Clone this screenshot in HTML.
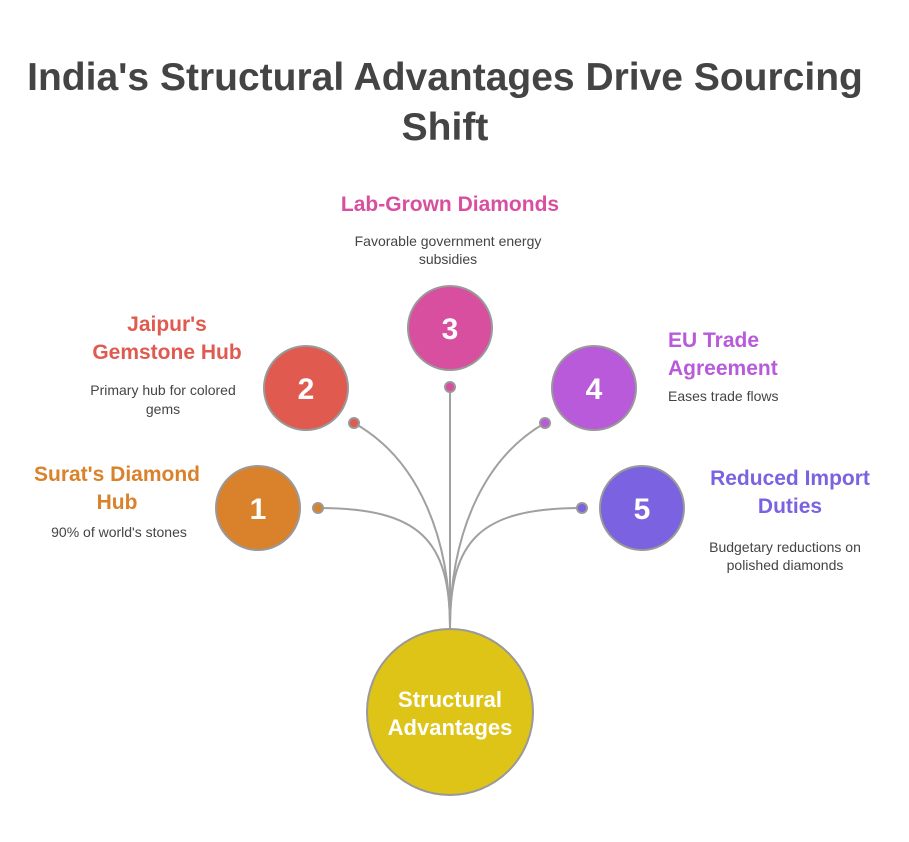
<!DOCTYPE html>
<html><head><meta charset="utf-8"><style>
html,body{margin:0;padding:0;background:#fff;}
svg{display:block;}
text{font-family:"Liberation Sans",sans-serif;}
</style></head><body>
<svg width="909" height="842" viewBox="0 0 909 842" xmlns="http://www.w3.org/2000/svg">
<rect width="909" height="842" fill="#fff"/>
<g font-weight="bold" font-size="39" fill="#444" text-anchor="middle">
<text x="445" y="90">India's Structural Advantages Drive Sourcing</text>
<text x="445" y="140">Shift</text>
</g>
<g fill="none" stroke="#a0a0a0" stroke-width="2">
<path d="M318,508 C420,508 450,540 450,628"/>
<path d="M354,423 C420,460 450,540 450,628"/>
<path d="M450,387 L450,628"/>
<path d="M545,423 C480,460 450,540 450,628"/>
<path d="M582,508 C480,508 450,540 450,628"/>
</g>
<g stroke="#999" stroke-width="2">
<circle cx="450" cy="712" r="83" fill="#DDC417"/>
<circle cx="258" cy="508" r="42" fill="#D9822B"/>
<circle cx="306" cy="388" r="42" fill="#E05A50"/>
<circle cx="450" cy="328" r="42" fill="#D94FA0"/>
<circle cx="594" cy="388" r="42" fill="#B85AD9"/>
<circle cx="642" cy="508" r="42" fill="#7B62E0"/>
<circle cx="318" cy="508" r="5" fill="#D9822B"/>
<circle cx="354" cy="423" r="5" fill="#E05A50"/>
<circle cx="450" cy="387" r="5" fill="#D94FA0"/>
<circle cx="545" cy="423" r="5" fill="#B85AD9"/>
<circle cx="582" cy="508" r="5" fill="#7B62E0"/>
</g>
<g font-weight="bold" fill="#fff" text-anchor="middle">
<text x="450" y="707" font-size="22">Structural</text>
<text x="450" y="735" font-size="22">Advantages</text>
<text x="258" y="519" font-size="30">1</text>
<text x="306" y="399" font-size="30">2</text>
<text x="450" y="339" font-size="30">3</text>
<text x="594" y="399" font-size="30">4</text>
<text x="642" y="519" font-size="30">5</text>
</g>
<g font-weight="bold" font-size="21">
<text x="117" y="481" fill="#D9822B" text-anchor="middle">Surat's Diamond</text>
<text x="117" y="509" fill="#D9822B" text-anchor="middle">Hub</text>
<text x="167" y="331" fill="#E05A50" text-anchor="middle">Jaipur's</text>
<text x="167" y="359" fill="#E05A50" text-anchor="middle">Gemstone Hub</text>
<text x="450" y="211" fill="#D94FA0" text-anchor="middle">Lab-Grown Diamonds</text>
<text x="668" y="347" fill="#B85AD9">EU Trade</text>
<text x="668" y="375" fill="#B85AD9">Agreement</text>
<text x="790" y="485" fill="#7B62E0" text-anchor="middle">Reduced Import</text>
<text x="790" y="513" fill="#7B62E0" text-anchor="middle">Duties</text>
</g>
<g font-size="14" fill="#444">
<text x="119" y="537" text-anchor="middle">90% of world's stones</text>
<text x="163" y="395" text-anchor="middle">Primary hub for colored</text>
<text x="163" y="414" text-anchor="middle">gems</text>
<text x="448" y="246" text-anchor="middle">Favorable government energy</text>
<text x="448" y="264" text-anchor="middle">subsidies</text>
<text x="668" y="401">Eases trade flows</text>
<text x="785" y="552" text-anchor="middle">Budgetary reductions on</text>
<text x="785" y="570" text-anchor="middle">polished diamonds</text>
</g>
</svg>
</body></html>
